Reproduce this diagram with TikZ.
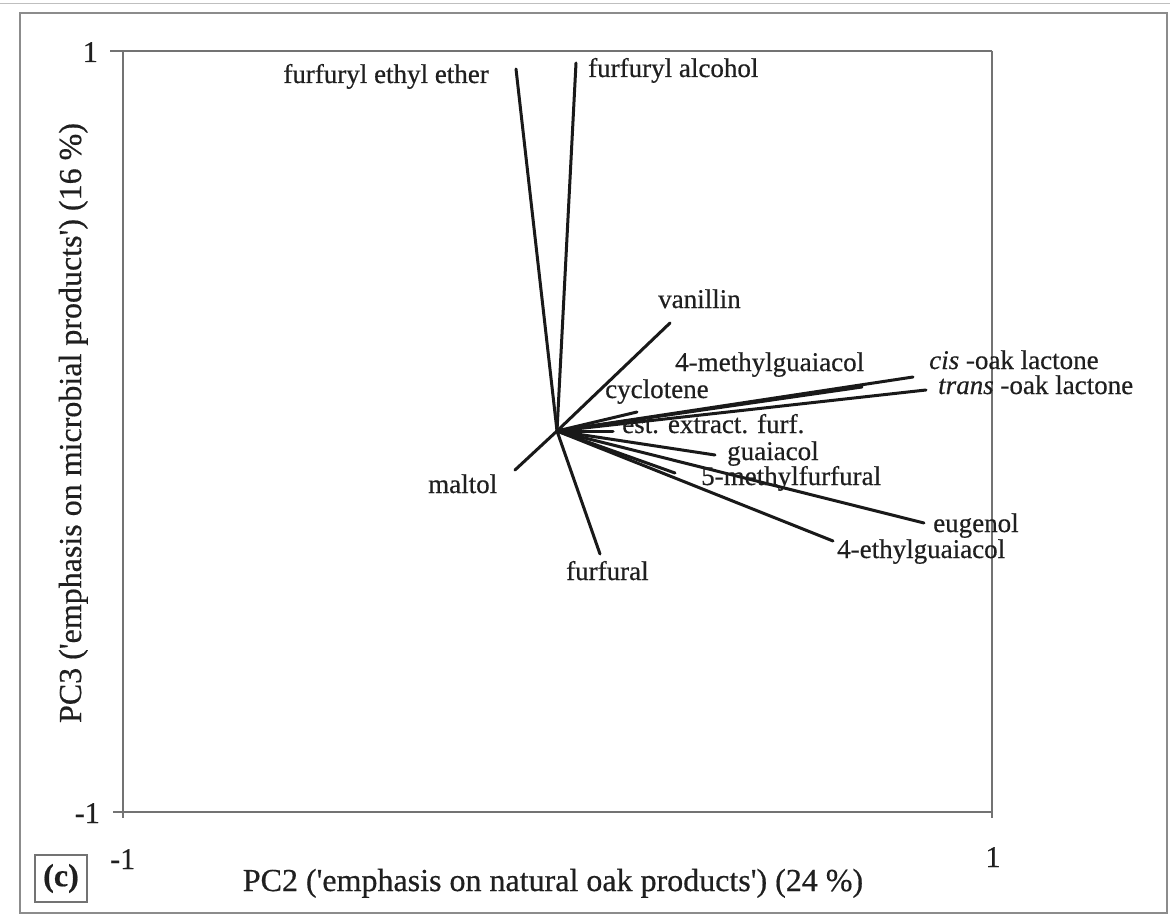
\documentclass[tikz,border=0pt]{standalone}
\usepackage{fontspec}
\setmainfont{Liberation Serif}[FakeBold=0.5]
\begin{document}
\begin{tikzpicture}[x=1pt,y=-1pt,
  loading/.style={line width=3pt,black!90},
  axisline/.style={line width=1.8pt,black!55},
  frameline/.style={line width=1.5pt,black!45},
  varlabel/.style={anchor=base west,inner sep=0pt,text=black!88,font=\fontsize{27}{30}\selectfont},
  ticklabel/.style={inner sep=0pt,text=black!88,font=\fontsize{30}{33}\selectfont},
  axislabel/.style={inner sep=0pt,text=black!88,font=\fontsize{32}{36}\selectfont}]
\useasboundingbox (0,0) rectangle (1170,920);
\fill[white] (0,0) rectangle (1170,920);

% outer panel frame
\draw[black!25,line width=1pt] (0,4) -- (1170,4);
\draw[frameline] (20,13) rectangle (1167,913);

% plot box with tick extensions
\draw[axisline] (110,51) -- (992,51);
\draw[axisline] (123,51) -- (123,818);
\draw[axisline] (113,812) -- (992,812);
\draw[axisline] (992,51) -- (992,818);

% tick labels
\node[ticklabel,anchor=base east] (ytop) at (98,62) {1};
\node[ticklabel,anchor=base east] (ybot) at (100,823) {-1};
\node[ticklabel,anchor=base west] (xleft) at (110,869) {-1};
\node[ticklabel,anchor=base] (xright) at (993,867) {1};

% axis titles
\node[axislabel,anchor=base] (xtitle) at (553,891)
  {PC2 (\textquotesingle emphasis on natural oak products\textquotesingle) (24 \%)};
\node[axislabel,anchor=base,rotate=90] (ytitle) at (81,423)
  {PC3 (\textquotesingle emphasis on microbial products\textquotesingle) (16 \%)};

% panel tag
\node[draw=black!55,line width=1.3pt,minimum width=52pt,minimum height=47pt,inner sep=0pt,
      text=black!88,font=\bfseries\fontsize{32}{34}\selectfont] (tag) at (61,878.5) {(c)};

% loading vectors
\coordinate (o) at (557,431);
\coordinate (ffee) at (516,69);
\coordinate (ffal) at (576,63);
\coordinate (van) at (670,323);
\coordinate (cis) at (913,377);
\coordinate (trans) at (926,390);
\coordinate (mg) at (862,387);
\coordinate (cyc) at (637,412);
\coordinate (eef) at (613,431);
\coordinate (gua) at (715,455);
\coordinate (mf) at (675,473);
\coordinate (eug) at (924,523);
\coordinate (eg) at (833,541);
\coordinate (mal) at (515,470);
\coordinate (fur) at (600,554);

\foreach \v in {ffee,ffal,van,cis,trans,mg,cyc,eef,gua,mf,eug,eg,mal,fur}
  \draw[loading,line cap=round] (o) -- (\v);

% variable names
\node[varlabel,anchor=base east] (lffee) at (489,83) {furfuryl ethyl ether};
\node[varlabel] (lffal) at (588,77) {furfuryl alcohol};
\node[varlabel] (lvan) at (658,308) {vanillin};
\node[varlabel] (lmg) at (675,371) {4-methylguaiacol};
\node[varlabel] (lcis) at (929,369) {\textit{cis} -oak lactone};
\node[varlabel] (ltrans) at (938,394) {\textit{trans} -oak lactone};
\node[varlabel] (lcyc) at (605,398) {cyclotene};
\node[varlabel] (leef) at (622,433) {est. extract. furf.};
\node[varlabel] (lgua) at (727,460) {guaiacol};
\node[varlabel] (lmf) at (701,485) {5-methylfurfural};
\node[varlabel] (leug) at (933,532) {eugenol};
\node[varlabel] (leg) at (837,558) {4-ethylguaiacol};
\node[varlabel] (lmal) at (428,493) {maltol};
\node[varlabel] (lfur) at (566,580) {furfural};
\end{tikzpicture}
\end{document}
